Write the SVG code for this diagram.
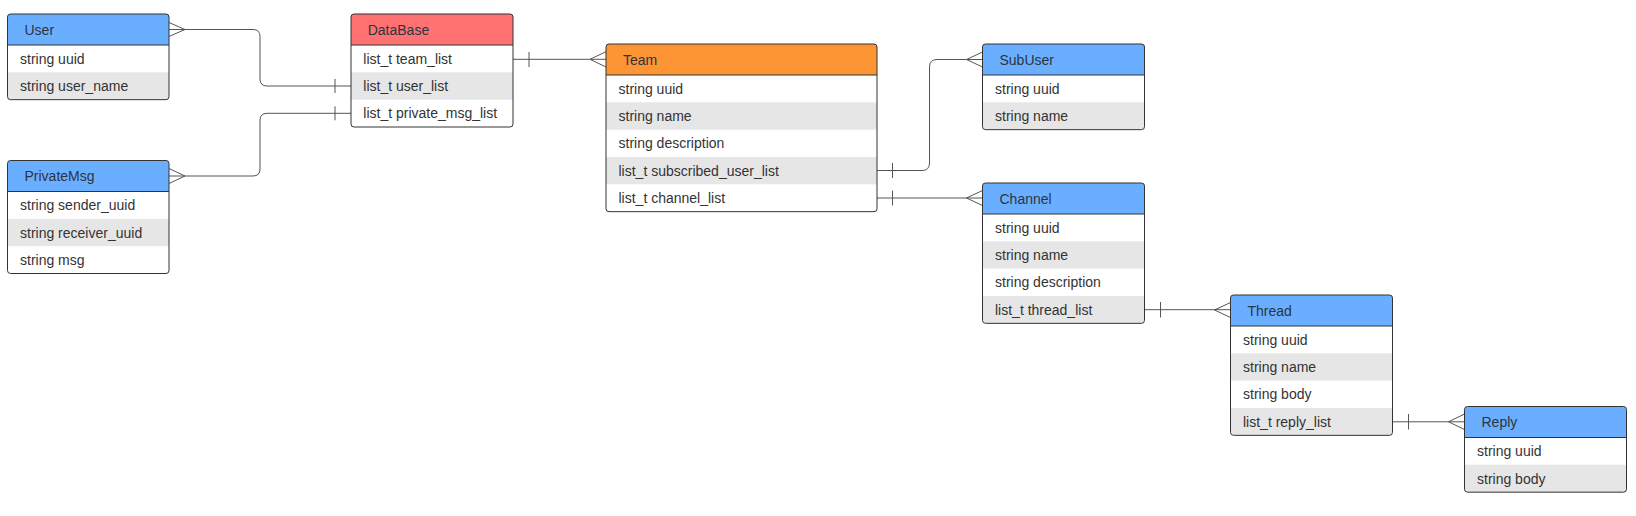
<svg xmlns="http://www.w3.org/2000/svg" width="1636" height="516" viewBox="0 0 1636 516">
<style>
.bg{fill:#ffffff}
.out{fill:none;stroke:#333;stroke-width:1}
.sep{stroke:#333;stroke-width:1}
.blue{fill:#6aafff}
.red{fill:#ff7272}
.orange{fill:#fe9534}
.gray{fill:#e6e6e6}
.ht{font-family:"Liberation Sans",Arial,sans-serif;font-size:14px;fill:#2d3440}
.ft{font-family:"Liberation Sans",Arial,sans-serif;font-size:14px;fill:#333}
.c{fill:none;stroke:#555;stroke-width:1}
</style>
<rect width="1636" height="516" fill="#ffffff"/>

<g id="connectors">
  <path class="c" d="M169,29.5 H253 Q260,29.5 260,36.5 V79 Q260,86 267,86 H351"/>
  <path class="c" d="M169,22.5 L185,29.5 L169,36.5"/>
  <path class="c" d="M335,79 V93"/>

  <path class="c" d="M169,176 H253 Q260,176 260,169 V120.3 Q260,113.3 267,113.3 H351"/>
  <path class="c" d="M169,168.5 L185,176 L169,183.5"/>
  <path class="c" d="M335,106.3 V120.3"/>

  <path class="c" d="M513,59.3 H606"/>
  <path class="c" d="M529,52 V67"/>
  <path class="c" d="M606,51.7 L590,59.3 L606,67"/>

  <path class="c" d="M877,170.5 H922 Q929.5,170.5 929.5,163 V67 Q929.5,59.5 937,59.5 H982.5"/>
  <path class="c" d="M892.5,163 V178"/>
  <path class="c" d="M982.5,52 L966.5,59.5 L982.5,67"/>

  <path class="c" d="M877,198 H982.5"/>
  <path class="c" d="M892.5,190.5 V205.5"/>
  <path class="c" d="M982.5,190.5 L966.5,198 L982.5,205.5"/>

  <path class="c" d="M1144.5,309.7 H1230.5"/>
  <path class="c" d="M1160.5,302 V317.5"/>
  <path class="c" d="M1230.5,302.5 L1214.5,310 L1230.5,317.5"/>

  <path class="c" d="M1392.5,421.8 H1464.5"/>
  <path class="c" d="M1408.5,414 V429.5"/>
  <path class="c" d="M1464.5,414 L1448.5,421.8 L1464.5,429.5"/>
</g>

<g id="User">
  <rect class="bg" x="7.5" y="14" width="161.5" height="85.67" rx="3"/>
  <path class="blue" d="M7.5,45 V17 Q7.5,14 10.5,14 H166 Q169,14 169,17 V45 Z"/>
  <path class="gray" d="M7.5,72.33 H169 V96.67 Q169,99.67 166,99.67 H10.5 Q7.5,99.67 7.5,96.67 Z"/>
  <line class="sep" x1="7.5" y1="45" x2="169" y2="45"/>
  <rect class="out" x="7.5" y="14" width="161.5" height="85.67" rx="3"/>
  <text class="ht" x="24.5" y="34.5">User</text>
  <text class="ft" x="20" y="63.67">string uuid</text>
  <text class="ft" x="20" y="91">string user_name</text>
</g>

<g id="DataBase">
  <rect class="bg" x="351" y="14" width="162" height="113" rx="3"/>
  <path class="red" d="M351,45 V17 Q351,14 354,14 H510 Q513,14 513,17 V45 Z"/>
  <rect class="gray" x="351" y="72.33" width="162" height="27.33"/>
  <line class="sep" x1="351" y1="45" x2="513" y2="45"/>
  <rect class="out" x="351" y="14" width="162" height="113" rx="3"/>
  <text class="ht" x="367.7" y="34.5">DataBase</text>
  <text class="ft" x="363.3" y="63.67">list_t team_list</text>
  <text class="ft" x="363.3" y="91">list_t user_list</text>
  <text class="ft" x="363.3" y="118.33">list_t private_msg_list</text>
</g>

<g id="PrivateMsg">
  <rect class="bg" x="7.5" y="160.5" width="161.5" height="113" rx="3"/>
  <path class="blue" d="M7.5,191.5 V163.5 Q7.5,160.5 10.5,160.5 H166 Q169,160.5 169,163.5 V191.5 Z"/>
  <rect class="gray" x="7.5" y="218.83" width="161.5" height="27.33"/>
  <line class="sep" x1="7.5" y1="191.5" x2="169" y2="191.5"/>
  <rect class="out" x="7.5" y="160.5" width="161.5" height="113" rx="3"/>
  <text class="ht" x="24.5" y="181">PrivateMsg</text>
  <text class="ft" x="20" y="210.17">string sender_uuid</text>
  <text class="ft" x="20" y="237.5">string receiver_uuid</text>
  <text class="ft" x="20" y="264.83">string msg</text>
</g>

<g id="Team">
  <rect class="bg" x="606" y="44" width="271" height="167.67" rx="3"/>
  <path class="orange" d="M606,75 V47 Q606,44 609,44 H874 Q877,44 877,47 V75 Z"/>
  <rect class="gray" x="606" y="102.33" width="271" height="27.33"/>
  <rect class="gray" x="606" y="157" width="271" height="27.33"/>
  <line class="sep" x1="606" y1="75" x2="877" y2="75"/>
  <rect class="out" x="606" y="44" width="271" height="167.67" rx="3"/>
  <text class="ht" x="623" y="64.5">Team</text>
  <text class="ft" x="618.5" y="93.67">string uuid</text>
  <text class="ft" x="618.5" y="121">string name</text>
  <text class="ft" x="618.5" y="148.33">string description</text>
  <text class="ft" x="618.5" y="175.67">list_t subscribed_user_list</text>
  <text class="ft" x="618.5" y="203">list_t channel_list</text>
</g>

<g id="SubUser">
  <rect class="bg" x="982.5" y="44" width="162" height="85.67" rx="3"/>
  <path class="blue" d="M982.5,75 V47 Q982.5,44 985.5,44 H1141.5 Q1144.5,44 1144.5,47 V75 Z"/>
  <path class="gray" d="M982.5,102.33 H1144.5 V126.67 Q1144.5,129.67 1141.5,129.67 H985.5 Q982.5,129.67 982.5,126.67 Z"/>
  <line class="sep" x1="982.5" y1="75" x2="1144.5" y2="75"/>
  <rect class="out" x="982.5" y="44" width="162" height="85.67" rx="3"/>
  <text class="ht" x="999.5" y="64.5">SubUser</text>
  <text class="ft" x="995" y="93.67">string uuid</text>
  <text class="ft" x="995" y="121">string name</text>
</g>

<g id="Channel">
  <rect class="bg" x="982.5" y="183" width="162" height="140.33" rx="3"/>
  <path class="blue" d="M982.5,214 V186 Q982.5,183 985.5,183 H1141.5 Q1144.5,183 1144.5,186 V214 Z"/>
  <rect class="gray" x="982.5" y="241.33" width="162" height="27.33"/>
  <path class="gray" d="M982.5,296 H1144.5 V320.33 Q1144.5,323.33 1141.5,323.33 H985.5 Q982.5,323.33 982.5,320.33 Z"/>
  <line class="sep" x1="982.5" y1="214" x2="1144.5" y2="214"/>
  <rect class="out" x="982.5" y="183" width="162" height="140.33" rx="3"/>
  <text class="ht" x="999.5" y="203.5">Channel</text>
  <text class="ft" x="995" y="232.67">string uuid</text>
  <text class="ft" x="995" y="260">string name</text>
  <text class="ft" x="995" y="287.33">string description</text>
  <text class="ft" x="995" y="314.67">list_t thread_list</text>
</g>

<g id="Thread">
  <rect class="bg" x="1230.5" y="295" width="162" height="140.33" rx="3"/>
  <path class="blue" d="M1230.5,326 V298 Q1230.5,295 1233.5,295 H1389.5 Q1392.5,295 1392.5,298 V326 Z"/>
  <rect class="gray" x="1230.5" y="353.33" width="162" height="27.33"/>
  <path class="gray" d="M1230.5,408 H1392.5 V432.33 Q1392.5,435.33 1389.5,435.33 H1233.5 Q1230.5,435.33 1230.5,432.33 Z"/>
  <line class="sep" x1="1230.5" y1="326" x2="1392.5" y2="326"/>
  <rect class="out" x="1230.5" y="295" width="162" height="140.33" rx="3"/>
  <text class="ht" x="1247.5" y="315.5">Thread</text>
  <text class="ft" x="1243" y="344.67">string uuid</text>
  <text class="ft" x="1243" y="372">string name</text>
  <text class="ft" x="1243" y="399.33">string body</text>
  <text class="ft" x="1243" y="426.67">list_t reply_list</text>
</g>

<g id="Reply">
  <rect class="bg" x="1464.5" y="406.5" width="162" height="85.67" rx="3"/>
  <path class="blue" d="M1464.5,437.5 V409.5 Q1464.5,406.5 1467.5,406.5 H1623.5 Q1626.5,406.5 1626.5,409.5 V437.5 Z"/>
  <path class="gray" d="M1464.5,464.83 H1626.5 V489.17 Q1626.5,492.17 1623.5,492.17 H1467.5 Q1464.5,492.17 1464.5,489.17 Z"/>
  <line class="sep" x1="1464.5" y1="437.5" x2="1626.5" y2="437.5"/>
  <rect class="out" x="1464.5" y="406.5" width="162" height="85.67" rx="3"/>
  <text class="ht" x="1481.5" y="427">Reply</text>
  <text class="ft" x="1477" y="456.17">string uuid</text>
  <text class="ft" x="1477" y="483.5">string body</text>
</g>
</svg>
